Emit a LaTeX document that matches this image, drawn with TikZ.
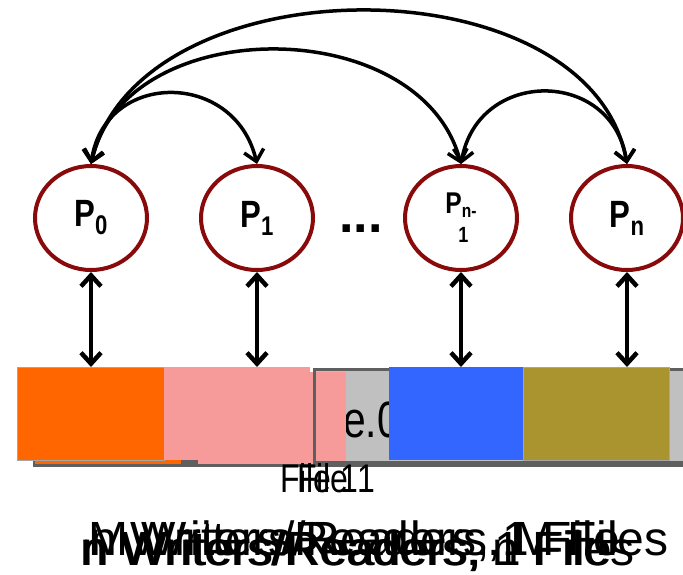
\documentclass[tikz,border=0pt]{standalone}
\usepackage{fontspec}
\setmainfont{Liberation Sans}
\usetikzlibrary{shapes.geometric,arrows.meta}
\definecolor{procred}{HTML}{880A0A}
\definecolor{fileorange}{HTML}{FF6600}
\definecolor{filepink}{HTML}{F79A9A}
\definecolor{fileblue}{HTML}{3366FF}
\definecolor{fileolive}{HTML}{AA9430}
\definecolor{filegray}{HTML}{C0C0C0}
\definecolor{edgegray}{HTML}{5F5F5F}

\begin{document}
\begin{tikzpicture}[x=1pt,y=-1pt,
  proc/.style={ellipse, draw=procred, line width=4pt, minimum width=112pt,
    minimum height=104pt, inner sep=0pt, font=\fontsize{38}{40}\selectfont\bfseries},
  link/.style={line width=3.5pt,
    {Straight Barb[length=11pt,width=20pt]}-{Straight Barb[length=11pt,width=20pt]}},
  rwlink/.style={link, line width=4.5pt},
  filebox/.style={anchor=north west, inner sep=0pt, minimum height=93pt,
    draw=gray!70, line width=0.6pt},
  caption/.style={anchor=base west, inner sep=0pt, font=\fontsize{48}{50}\selectfont}]
  \useasboundingbox (0,0) rectangle (683,574);

  % Back row of file blocks (only the lower edge peeks out)
  \fill[edgegray] (33,372) rectangle (700,467);
  \fill[fileorange] (35,372) rectangle (181,463.5);
  \fill[filepink] (198,372) rectangle (322,463.5);
  \fill[fileblue] (405,372) rectangle (539,463.5);
  \fill[fileolive] (541,372) rectangle (700,463.5);

  % Grey file block with its half hidden name
  \filldraw[fill=filegray, draw=edgegray, line width=3pt] (314,369) rectangle (700,462);
  \begin{scope}
    \clip (316,371) rectangle (700,460);
    \node[anchor=base west, inner sep=0pt, font=\fontsize{51}{54}\selectfont, xscale=0.8]
      (fname) at (300,437) {File.0};
  \end{scope}
  \fill[filepink] (316,372) rectangle (346,461);

  % Front row of file blocks
  \node[filebox, fill=fileorange, minimum width=147pt] (fb0) at (17,367) {};
  \node[filebox, fill=filepink, minimum width=146pt, draw=none] (fb1) at (164,367) {};
  \node[filebox, fill=fileblue, minimum width=134pt, draw=none] (fb2) at (389,367) {};
  \node[filebox, fill=fileolive, minimum width=146pt] (fb3) at (523,367) {};

  % Processes
  \node[proc] (p0) at (91,218)
    {\scalebox{0.82}[1]{P\raisebox{-8pt}{\fontsize{27}{28}\selectfont 0}}};
  \node[proc] (p1) at (257,218)
    {\scalebox{0.82}[1]{P\raisebox{-8pt}{\fontsize{27}{28}\selectfont 1}}};
  \node[proc, align=center, font=\fontsize{30}{30}\selectfont\bfseries] (pm) at (461,218)
    {\scalebox{0.82}[1]{P\raisebox{-4pt}{\fontsize{19}{19}\selectfont n-}}\\[-1pt]
     \scalebox{0.82}[1]{\fontsize{22}{22}\selectfont\hspace*{6pt}1}};
  \node[proc] (pn) at (627,218)
    {\scalebox{0.82}[1]{P\raisebox{-8pt}{\fontsize{27}{28}\selectfont n}}};
  \node[font=\fontsize{52}{52}\selectfont\bfseries] (dots) at (361,229) {...};

  % Messages between processes
  \draw[link] (p0.north) .. controls (105,70) and (235,70) .. (p1.north);
  \draw[link] (p0.north) .. controls (125,12) and (420,12) .. (pm.north);
  \draw[link] (p0.north) .. controls (140,-40) and (590,-40) .. (pn.north);
  \draw[link] (pm.north) .. controls (478,68) and (612,68) .. (pn.north);

  % Reads and writes
  \draw[rwlink] (p0.south) -- (p0.south |- fb0.north);
  \draw[rwlink] (p1.south) -- (p1.south |- fb1.north);
  \draw[rwlink] (pm.south) -- (pm.south |- fb2.north);
  \draw[rwlink] (pn.south) -- (pn.south |- fb3.north);

  % Labels
  \node[anchor=base west, inner sep=0pt, font=\fontsize{40}{42}\selectfont, xscale=0.8]
    (flab0) at (280,492) {File 1};
  \node[anchor=base west, inner sep=0pt, font=\fontsize{40}{42}\selectfont, xscale=0.8]
    (flab1) at (297,492) {File 1};
  \node[caption] (capa) at (88,555) {M Writers/Readers, M Files};
  \node[caption] (capb) at (90,555) {n Writers/Readers, 1 File};
  \node[caption] (capc) at (80,565) {n Writers/Readers, n Files};
  \node[caption] (capd) at (82,565) {n Writers/Readers, 1 File};
\end{tikzpicture}
\end{document}
